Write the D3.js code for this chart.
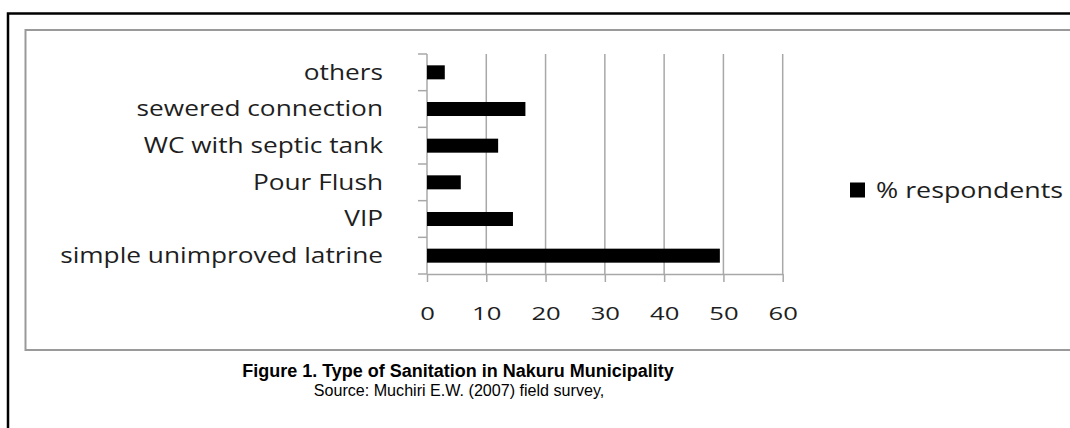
<!DOCTYPE html>
<html>
<head>
<meta charset="utf-8">
<script src="https://cdn.jsdelivr.net/npm/d3@7"></script>
<style>
  body { margin: 0; background: #fff; }
  svg { display: block; }
</style>
</head>
<body>
<div id="chart"></div>
<script>
const width = 1070;
const height = 428;

// data (top to bottom)
const categories = ["others", "sewered connection", "WC with septic tank", "Pour Flush", "VIP", "simple unimproved latrine"];
const respondents = [3.0, 16.6, 12.0, 5.7, 14.5, 49.4];
const xTicks = [0, 10, 20, 30, 40, 50, 60];
const seriesName = "% respondents";
const title = "Figure 1. Type of Sanitation in Nakuru Municipality";
const source = "Source: Muchiri E.W. (2007) field survey,";

const plot = { left: 427, right: 782.7, top: 54, bottom: 274 };
const gridColor = "#a8a8a8";
const labelFont = "'Open Sans', sans-serif";
const textColor = "#1e1e1e";

const svg = d3.select("#chart").append("svg").attr("width", width).attr("height", height);

// outer black frame (only top and left visible)
svg.append("path")
    .attr("d", `M8,${height} V13.5 H${width}`)
    .attr("fill", "none").attr("stroke", "#000").attr("stroke-width", 2.5);

// grey chart area border
svg.append("path")
    .attr("d", `M${width},30 H25.5 V350 H${width}`)
    .attr("fill", "none").attr("stroke", "#9a9a9a").attr("stroke-width", 2);

const x = d3.scaleLinear().domain([0, 60]).range([plot.left, plot.right]);
const y = d3.scaleBand().domain(categories).range([plot.top, plot.bottom])
    .paddingInner(0.618).paddingOuter(0.309);

// vertical gridlines
svg.append("g").selectAll("line").data(xTicks.slice(1)).join("line")
    .attr("x1", d => x(d)).attr("x2", d => x(d))
    .attr("y1", plot.top).attr("y2", plot.bottom)
    .attr("stroke", gridColor).attr("stroke-width", 1.5);

// x axis
const xAxis = d3.axisBottom(x).tickValues(xTicks).tickSize(8).tickSizeOuter(0).tickPadding(0);
const gx = svg.append("g").attr("transform", `translate(0,${plot.bottom})`).call(xAxis);
gx.select(".domain").attr("stroke", gridColor).attr("stroke-width", 1.5);
gx.selectAll(".tick line").attr("stroke", gridColor).attr("stroke-width", 1.5);
gx.selectAll(".tick text")
    .attr("y", 0).attr("dy", 0)
    .attr("transform", "translate(0,45.5) scale(1.35,1)")
    .attr("font-family", labelFont).attr("font-size", 19).attr("fill", textColor);

// y axis line and boundary ticks
const bounds = categories.map(c => y(c) - y.step() * y.paddingInner() / 2).concat([plot.bottom]);
svg.append("line")
    .attr("x1", plot.left).attr("x2", plot.left)
    .attr("y1", plot.top).attr("y2", plot.bottom)
    .attr("stroke", gridColor).attr("stroke-width", 1.5);
svg.append("g").selectAll("line").data(bounds).join("line")
    .attr("x1", plot.left - 9).attr("x2", plot.left)
    .attr("y1", d => d).attr("y2", d => d)
    .attr("stroke", gridColor).attr("stroke-width", 1.5);

// category labels (the original glyphs are stretched horizontally)
svg.append("g").selectAll("text").data(categories).join("text")
    .attr("transform", d => `translate(${plot.left - 44},${y(d) + y.bandwidth() / 2}) scale(1.25,1)`)
    .attr("dy", "0.35em")
    .attr("text-anchor", "end")
    .attr("font-family", labelFont).attr("font-size", 21).attr("fill", textColor)
    .text(d => d);

// bars
svg.append("g").selectAll("rect").data(categories).join("rect")
    .attr("x", x(0))
    .attr("y", d => y(d))
    .attr("width", (d, i) => x(respondents[i]) - x(0))
    .attr("height", y.bandwidth())
    .attr("fill", "#000");

// legend
const legend = svg.append("g").attr("transform", "translate(850,190)");
legend.append("rect").attr("x", 0).attr("y", -7.5).attr("width", 15).attr("height", 15).attr("fill", "#000");
legend.append("text").attr("transform", "translate(26,0) scale(1.22,1)").attr("dy", "0.35em")
    .attr("font-family", labelFont).attr("font-size", 22).attr("fill", textColor)
    .text(seriesName);

// caption
svg.append("text").attr("transform", "translate(458,376.5) scale(0.973,1)").attr("text-anchor", "middle")
    .attr("font-family", "'Liberation Sans', Arial, sans-serif").attr("font-weight", "bold")
    .attr("font-size", 18.5).attr("fill", "#000")
    .text(title);
svg.append("text").attr("transform", "translate(459,395.5) scale(0.976,1)").attr("text-anchor", "middle")
    .attr("font-family", "'Liberation Sans', Arial, sans-serif")
    .attr("font-size", 16.5).attr("fill", "#000")
    .text(source);
</script>
</body>
</html>
